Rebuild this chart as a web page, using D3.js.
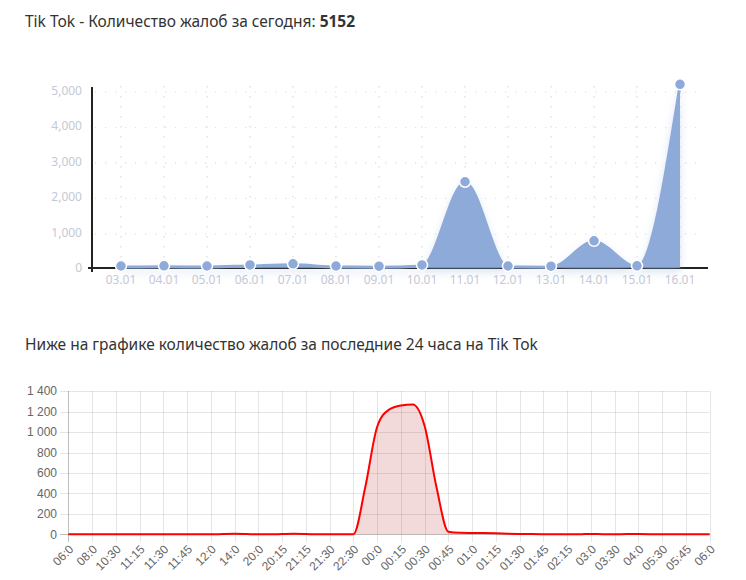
<!DOCTYPE html>
<html>
<head>
<meta charset="utf-8">
<script src="https://cdn.jsdelivr.net/npm/d3@7"></script>
<style>
  body { margin: 0; background: #fff; }
  svg { display: block; }
  .title { font-family: "Noto Sans", sans-serif; font-size: 15.5px; fill: #333; }
  .top-axis text { font-family: "Noto Sans", sans-serif; font-size: 12px; fill: #c6c8d6; }
  .bot-axis text { font-family: "Liberation Sans", Arial, sans-serif; font-size: 12px; fill: #666; }
</style>
</head>
<body>
<svg id="chart" width="746" height="580"></svg>
<script>
// top chart: complaints per day
const days = ["03.01", "04.01", "05.01", "06.01", "07.01", "08.01", "09.01",
              "10.01", "11.01", "12.01", "13.01", "14.01", "15.01", "16.01"];
const dayCounts = [20, 25, 20, 50, 80, 20, 15, 50, 2400, 20, 15, 730, 25, 5152];
const dayTicks = [0, 1000, 2000, 3000, 4000, 5000];

// bottom chart: last 24 hours (two points per shown label)
const hourLabels = ["06:0", "08:0", "10:30", "11:15", "11:30", "11:45", "12:0", "14:0",
                    "20:0", "20:15", "21:15", "21:30", "22:30", "00:0", "00:15", "00:30",
                    "00:45", "01:0", "01:15", "01:30", "01:45", "02:15", "03:0", "03:30",
                    "04:0", "05:30", "05:45", "06:0"];
const hourCounts = [0, 0, 0, 0, 0, 0, 0, 0, 0, 0,
                    0, 0, 0, 3, 5, 3, 0, 0, 3, 5,
                    3, 0, 0, 0, 0, 460, 1050, 1220, 1260, 1270,
                    1060, 460, 25, 15, 13, 12, 10, 6, 3, 2,
                    1, 0, 0, 0, 4, 1, 0, 2, 2, 1,
                    0, 0, 0, 0, 0];
const hourTicks = [0, 200, 400, 600, 800, 1000, 1200, 1400];

const svg = d3.select("#chart");

// titles
const t1 = svg.append("text").attr("class", "title").attr("x", 25).attr("y", 27);
t1.append("tspan").text("Tik Tok - Количество жалоб за сегодня: ");
t1.append("tspan").attr("font-weight", "bold").text(d3.max(dayCounts));

svg.append("text").attr("class", "title")
    .attr("x", 25).attr("y", 350)
    .text("Ниже на графике количество жалоб за последние 24 часа на Tik Tok");

// ---------- top chart ----------
const x1 = d3.scalePoint().domain(days).range([121, 680]);
const y1 = d3.scaleLinear().domain([0, 5000]).range([267.7, 90.7]);

const defs = svg.append("defs");
const shadow = defs.append("filter").attr("id", "glow")
    .attr("x", "-10%").attr("y", "-10%").attr("width", "120%").attr("height", "130%");
shadow.append("feDropShadow")
    .attr("dx", 0).attr("dy", 4).attr("stdDeviation", 4)
    .attr("flood-color", "#8eaad8").attr("flood-opacity", 0.35);

const daily = svg.append("g").attr("class", "top-axis");

// dotted grid
daily.append("g").selectAll("line")
    .data(dayTicks.slice(1))
    .join("line")
    .attr("x1", 95).attr("x2", 700)
    .attr("y1", d => y1(d) + 1.5).attr("y2", d => y1(d) + 1.5)
    .attr("stroke", "#e2e2e6").attr("stroke-width", 1.3)
    .attr("stroke-dasharray", "1.3,8.7");
daily.append("g").selectAll("line")
    .data(days)
    .join("line")
    .attr("x1", d => x1(d)).attr("x2", d => x1(d))
    .attr("y1", 86).attr("y2", 262)
    .attr("stroke", "#e2e2e6").attr("stroke-width", 1.5)
    .attr("stroke-dasharray", "1.5,8.5");

// y labels
daily.append("g").selectAll("text")
    .data(dayTicks)
    .join("text")
    .attr("x", 82).attr("y", d => y1(d))
    .attr("dy", "0.35em")
    .attr("text-anchor", "end")
    .text(d => d3.format(",")(d));

// x labels
daily.append("g").selectAll("text")
    .data(days)
    .join("text")
    .attr("x", d => x1(d)).attr("y", 284)
    .attr("text-anchor", "middle")
    .text(d => d);

// axes lines
daily.append("line").attr("x1", 88).attr("x2", 708).attr("y1", 268).attr("y2", 268)
    .attr("stroke", "#222").attr("stroke-width", 2);
daily.append("line").attr("x1", 92).attr("x2", 92).attr("y1", 87).attr("y2", 272)
    .attr("stroke", "#222").attr("stroke-width", 2);

const series = daily.append("g").attr("filter", "url(#glow)");
series.append("path")
    .datum(dayCounts)
    .attr("fill", "#8eaad8")
    .attr("d", d3.area()
        .x((d, i) => x1(days[i]))
        .y0(y1(0))
        .y1(d => y1(d))
        .curve(d3.curveMonotoneX));
series.append("path")
    .datum(dayCounts)
    .attr("fill", "none")
    .attr("stroke", "#8eaad8")
    .attr("stroke-width", 3)
    .attr("d", d3.line()
        .x((d, i) => x1(days[i]))
        .y(d => y1(d))
        .curve(d3.curveMonotoneX));

daily.append("g").selectAll("circle")
    .data(dayCounts)
    .join("circle")
    .attr("cx", (d, i) => x1(days[i]))
    .attr("cy", d => y1(d) - 1)
    .attr("r", 5.5)
    .attr("fill", "#8eaad8")
    .attr("stroke", "#fff")
    .attr("stroke-width", 1.5);

// ---------- bottom chart ----------
const x2 = d3.scaleLinear().domain([0, hourCounts.length - 1]).range([68.3, 709.7]);
const y2 = d3.scaleLinear().domain([0, 1400]).range([534.3, 391.2]);
const spaceFmt = d3.formatLocale({decimal: ".", thousands: " ", grouping: [3], currency: ["", ""]}).format(",");

const hourly = svg.append("g").attr("class", "bot-axis");

// grid
hourly.append("g").selectAll("line")
    .data(hourTicks)
    .join("line")
    .attr("x1", 60).attr("x2", 709.7)
    .attr("y1", d => Math.round(y2(d)) + 0.5).attr("y2", d => Math.round(y2(d)) + 0.5)
    .attr("stroke", d => d === 0 ? "rgba(0,0,0,0.25)" : "rgba(0,0,0,0.1)");
hourly.append("g").selectAll("line")
    .data(hourLabels)
    .join("line")
    .attr("x1", (d, i) => Math.round(x2(i * 2)) + 0.5)
    .attr("x2", (d, i) => Math.round(x2(i * 2)) + 0.5)
    .attr("y1", 391).attr("y2", 542)
    .attr("stroke", (d, i) => i === 0 ? "rgba(0,0,0,0.25)" : "rgba(0,0,0,0.1)");

hourly.append("g").selectAll("text")
    .data(hourTicks)
    .join("text")
    .attr("x", 57).attr("y", d => y2(d))
    .attr("dy", "0.35em")
    .attr("text-anchor", "end")
    .text(d => spaceFmt(d));

hourly.append("g").selectAll("text")
    .data(hourLabels)
    .join("text")
    .attr("text-anchor", "end")
    .attr("dy", "0.35em")
    .attr("transform", (d, i) => `translate(${x2(i * 2) + 3},${547}) rotate(-45)`)
    .text(d => d);

hourly.append("path")
    .datum(hourCounts)
    .attr("fill", "rgba(190,70,70,0.2)")
    .attr("d", d3.area()
        .x((d, i) => x2(i))
        .y0(y2(0))
        .y1(d => y2(d))
        .curve(d3.curveMonotoneX));
hourly.append("path")
    .datum(hourCounts)
    .attr("fill", "none")
    .attr("stroke", "#ff0000")
    .attr("stroke-width", 2)
    .attr("d", d3.line()
        .x((d, i) => x2(i))
        .y(d => y2(d))
        .curve(d3.curveMonotoneX));
</script>
</body>
</html>
